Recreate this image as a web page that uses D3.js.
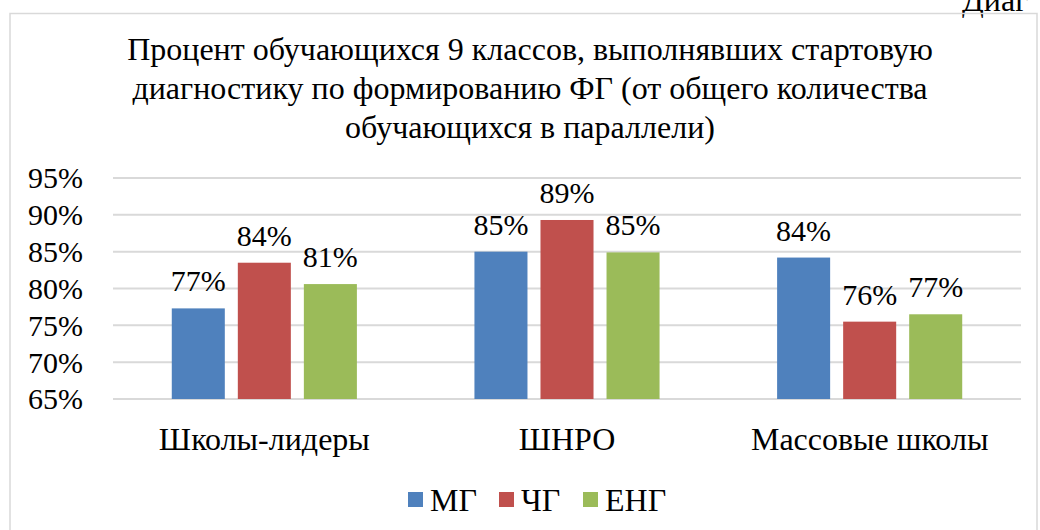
<!DOCTYPE html>
<html lang="ru">
<head>
    <meta charset="UTF-8">
    <title>Процент обучающихся 9 классов</title>
    <script src="https://d3js.org/d3.v7.min.js"></script>
    <style>
        body {
            margin: 0;
            background: #fff;
        }
    </style>
</head>
<body>

<div id="chart"></div>

<script>
    // data
    const categories = ["Школы-лидеры", "ШНРО", "Массовые школы"];
    const seriesNames = ["МГ", "ЧГ", "ЕНГ"];
    const seriesColors = ["#4f81bd", "#c0504d", "#9bbb59"];
    const mgValues = [77.3, 85.0, 84.2];
    const chgValues = [83.5, 89.3, 75.5];
    const engValues = [80.6, 84.9, 76.5];
    const yTicks = [65, 70, 75, 80, 85, 90, 95];
    const titleLines = [
        "Процент обучающихся 9 классов, выполнявших стартовую",
        "диагностику по формированию ФГ (от общего количества",
        "обучающихся в параллели)"
    ];

    const series = [mgValues, chgValues, engValues];

    const FONT = "Liberation Serif";
    const FS = 30;      // numbers
    const FS_TXT = 32;  // cyrillic text comes out a bit wider in the original
    const W = 1040, H = 530;
    const plot = {left: 113, right: 1021, top: 178, bottom: 399};

    const svg = d3.select("#chart").append("svg")
        .attr("width", W)
        .attr("height", H)
        .attr("font-family", FONT);

    // cut-off caption from the page above the chart
    svg.append("text")
        .attr("x", 962)
        .attr("y", 11)
        .attr("font-family", FONT)
        .attr("font-size", FS_TXT)
        .text("Диаг");

    // chart frame
    svg.append("rect")
        .attr("x", 10)
        .attr("y", 13.5)
        .attr("width", 1027)
        .attr("height", 540)
        .attr("fill", "none")
        .attr("stroke", "#d9d9d9")
        .attr("stroke-width", 1.5);

    // title
    svg.append("g").selectAll("text")
        .data(titleLines)
        .join("text")
        .attr("x", 530)
        .attr("y", (d, i) => 60 + i * 39)
        .attr("text-anchor", "middle")
        .attr("font-family", FONT)
        .attr("font-size", FS_TXT)
        .text(d => d);

    const x0 = d3.scaleBand()
        .domain(categories)
        .range([plot.left, plot.right]);

    const x1 = d3.scaleBand()
        .domain(seriesNames)
        .range([0, x0.bandwidth()])
        .paddingInner(0.197)
        .paddingOuter(0.89);

    const y = d3.scaleLinear()
        .domain([65, 95])
        .range([plot.bottom, plot.top]);

    // gridlines
    svg.append("g").selectAll("line")
        .data(yTicks)
        .join("line")
        .attr("x1", plot.left)
        .attr("x2", plot.right)
        .attr("y1", d => y(d))
        .attr("y2", d => y(d))
        .attr("stroke", "#d9d9d9")
        .attr("stroke-width", 2);

    // y axis labels
    const yAxis = d3.axisLeft(y)
        .tickValues(yTicks)
        .tickFormat(d => d + "%")
        .tickSize(0)
        .tickPadding(0);

    const gy = svg.append("g")
        .attr("transform", "translate(83,0)")
        .call(yAxis)
        .attr("font-family", FONT)
        .attr("font-size", FS);
    gy.select(".domain").remove();
    gy.selectAll("text")
        .attr("fill", "#000")
        .attr("dy", "0.33em");

    // bars
    const groups = svg.append("g").selectAll("g")
        .data(categories)
        .join("g")
        .attr("transform", d => `translate(${x0(d)},0)`);

    const cells = groups.selectAll("g")
        .data((c, ci) => seriesNames.map((s, si) => ({s, si, v: series[si][ci]})))
        .join("g");

    cells.append("rect")
        .attr("x", d => x1(d.s))
        .attr("width", x1.bandwidth())
        .attr("y", d => y(d.v))
        .attr("height", d => y(65) - y(d.v))
        .attr("fill", d => seriesColors[d.si]);

    cells.append("text")
        .attr("x", d => x1(d.s) + x1.bandwidth() / 2)
        .attr("y", d => y(d.v) - 17)
        .attr("text-anchor", "middle")
        .attr("font-family", FONT)
        .attr("font-size", FS)
        .text(d => Math.round(d.v) + "%");

    // category labels
    const xAxis = d3.axisBottom(x0).tickSize(0).tickPadding(0);
    const gx = svg.append("g")
        .attr("transform", `translate(0,${plot.bottom})`)
        .call(xAxis)
        .attr("font-family", FONT)
        .attr("font-size", FS_TXT);
    gx.select(".domain").remove();
    gx.selectAll("text")
        .attr("fill", "#000")
        .attr("dy", null)
        .attr("y", 51);

    // legend
    const legendX = [408, 499, 583];
    const legend = svg.append("g").selectAll("g")
        .data(seriesNames)
        .join("g")
        .attr("transform", (d, i) => `translate(${legendX[i]},492)`);
    legend.append("rect")
        .attr("width", 15)
        .attr("height", 15)
        .attr("fill", (d, i) => seriesColors[i]);
    legend.append("text")
        .attr("x", 22)
        .attr("y", 19)
        .attr("font-family", FONT)
        .attr("font-size", FS_TXT)
        .text(d => d);
</script>

</body>
</html>
